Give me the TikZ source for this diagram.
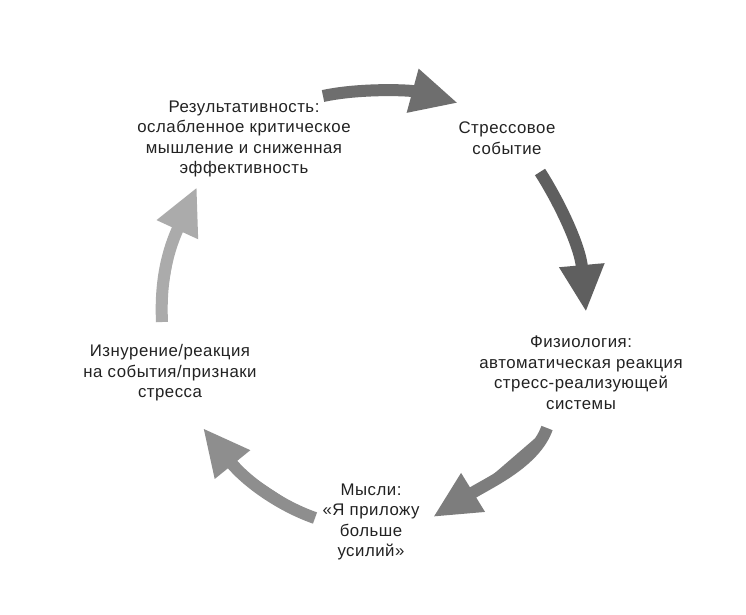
\documentclass[tikz,border=0pt]{standalone}
\usepackage{fontspec}
\setmainfont{Liberation Sans}[LetterSpace=3]
\usetikzlibrary{arrows.meta}
\definecolor{txt}{HTML}{222222}
\definecolor{ga}{HTML}{6E6E6E}
\definecolor{gb}{HTML}{5F5F5F}
\definecolor{gc}{HTML}{7D7D7D}
\definecolor{gd}{HTML}{8E8E8E}
\definecolor{ge}{HTML}{ABABAB}
\tikzset{
  lbl/.style={align=center, text=txt, inner sep=0pt, font=\fontsize{16.8}{20.5}\selectfont},
  bigarrow/.style={line width=12pt, -{Triangle[width=42pt,length=47pt]}}
}
\begin{document}
\begin{tikzpicture}[x=1pt,y=-1pt]
\useasboundingbox[fill=white] (0,0) rectangle (746,614);
\node[lbl] (perf) at (244,139) {Результативность:\\ослабленное критическое\\мышление и сниженная\\эффективность};
\node[lbl] (event) at (507,138) {Стрессовое\\событие};
\node[lbl] (phys) at (581,373) {Физиология:\\автоматическая реакция\\стресс-реализующей\\системы};
\node[lbl] (thought) at (371,522) {Мысли:\\«Я приложу\\больше\\усилий»};
\node[lbl] (exh) at (170,373) {Изнурение/реакция\\на события/признаки\\стресса};
\coordinate (s1) at (323,96);  \coordinate (t1) at (458,103);
\coordinate (s2) at (540,172); \coordinate (t2) at (586,312);
\coordinate (s3) at (547,428); \coordinate (t3) at (433,517);
\coordinate (s4) at (315,518); \coordinate (t4) at (203,428);
\coordinate (s5) at (162,322); \coordinate (t5) at (197,187);
\draw[bigarrow, draw=ga, fill=ga] (s1) .. controls (360,88) and (410,90) .. (t1);
\draw[bigarrow, draw=gb, fill=gb] (s2) .. controls (558,200) and (580,245) .. (t2);
\draw[bigarrow, draw=gc, fill=gc] (s3) .. controls (535,462) and (490,482) .. (t3);
\draw[bigarrow, draw=gd, fill=gd] (s4) .. controls (278,505) and (245,480) .. (t4);
\draw[bigarrow, draw=ge, fill=ge] (s5) .. controls (160,280) and (168,250) .. (t5);
\end{tikzpicture}
\end{document}
